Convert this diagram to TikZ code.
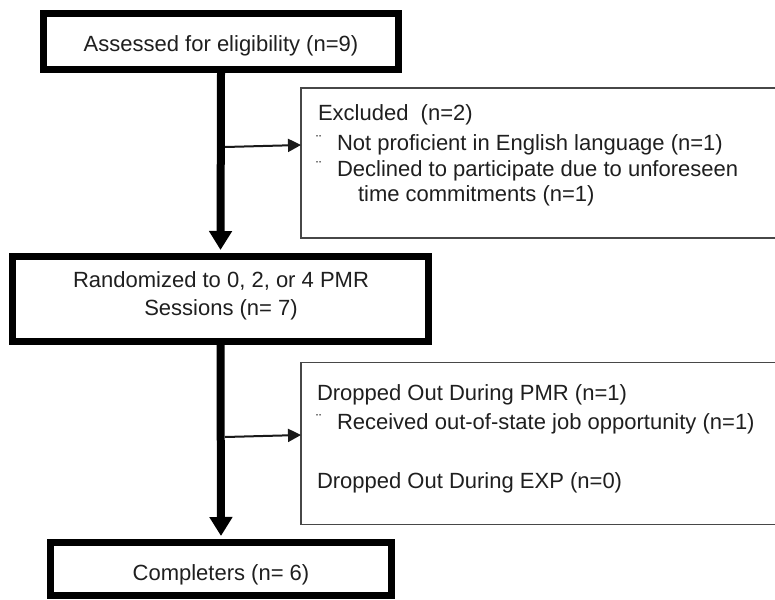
\documentclass[tikz,border=0pt]{standalone}
\usepackage{fontspec}
\setmainfont{Liberation Sans}
\usetikzlibrary{arrows.meta}
\tikzset{
  txt/.style={inner sep=0pt, outer sep=0pt, text=black!88, font=\fontsize{22}{27}\selectfont},
  bigbox/.style={draw=black, line width=7pt, fill=white, inner sep=0pt, text=black!88, font=\fontsize{22}{28}\selectfont, align=center},
  thinbox/.style={draw=black!72, line width=1.6pt, fill=white, inner sep=0pt},
  flow/.style={line width=8pt, -{Triangle[length=19pt,width=22pt]}},
  side/.style={line width=2pt, black!90, -{Triangle[length=13pt,width=13pt]}},
  dots/.style={inner sep=0pt, outer sep=0pt, text=black!80, font=\fontsize{16}{16}\selectfont}
}
\begin{document}
\begin{tikzpicture}[x=1pt,y=-1pt]
\useasboundingbox (0,0) rectangle (775,599);
\clip (0,0) rectangle (775,599);
% main boxes
\node[bigbox, minimum width=355pt, minimum height=56pt] (b1) at (221,41.5) {};
\node[txt, anchor=base] (t1) at (221,52) {Assessed for eligibility (n=9)};
\node[bigbox, minimum width=416pt, minimum height=85pt] (b2) at (220.5,299) {};
\node[txt, anchor=base] (t2a) at (221,287) {Randomized to 0, 2, or 4 PMR};
\node[txt, anchor=base] (t2b) at (221,315) {Sessions (n= 7)};
\node[bigbox, minimum width=341pt, minimum height=53pt] (b4) at (221,569) {};
\node[txt, anchor=base] (t4) at (221,580) {Completers (n= 6)};
% side boxes
\node[thinbox, minimum width=500pt, minimum height=150pt] (exA) at (551,163) {};
\node[txt, anchor=base west] (eA1) at (318,121) {Excluded\ \ (n=2)};
\node[dots, anchor=base west] (dA2) at (316,146) {¨};
\node[txt, anchor=base west] (eA2) at (337,150) {Not proficient in English language (n=1)};
\node[dots, anchor=base west] (dA3) at (316,172) {¨};
\node[txt, anchor=base west] (eA3) at (337,176) {Declined to participate due to unforeseen};
\node[txt, anchor=base west] (eA4) at (358,201) {time commitments (n=1)};
\node[thinbox, minimum width=500pt, minimum height=162pt] (exB) at (551,443.5) {};
\node[txt, anchor=base west] (eB1) at (317,400) {Dropped Out During PMR (n=1)};
\node[dots, anchor=base west] (dB2) at (316,425) {¨};
\node[txt, anchor=base west] (eB2) at (337,429) {Received out-of-state job opportunity (n=1)};
\node[txt, anchor=base west] (eB3) at (317,488) {Dropped Out During EXP (n=0)};
% connectors
\draw[flow, shorten >=3pt] (b1.south) -- (b2.north);
\draw[flow, shorten >=3pt] (b2.south) -- (b4.north);
\coordinate (j1) at (225,147);
\coordinate (k1) at (301,145);
\coordinate (j2) at (225,437);
\coordinate (k2) at (301,435);
\draw[side] (j1) -- (k1);
\draw[side] (j2) -- (k2);
\end{tikzpicture}
\end{document}
